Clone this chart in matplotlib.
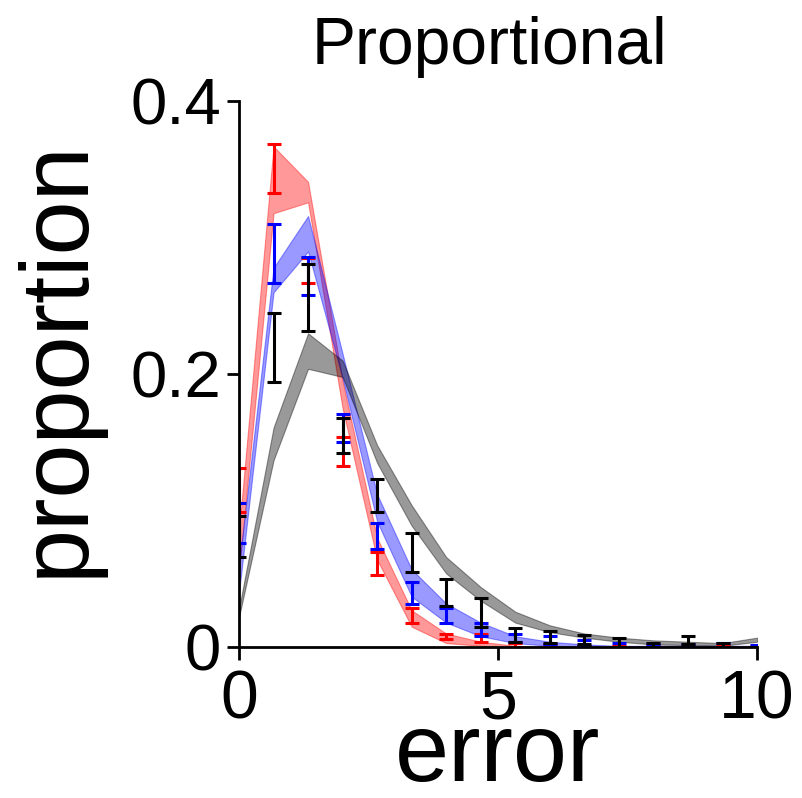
import numpy as np
import matplotlib
matplotlib.use("Agg")
import matplotlib.pyplot as plt

plt.rcParams['font.family'] = ['Liberation Sans', 'DejaVu Sans']

# x positions (error values)
err_x = [0, 0.667, 1.333, 2, 2.667, 3.333, 4, 4.667, 5.333, 6, 6.667, 7.333, 8, 8.667, 9.333, 10]

# data error bars (lower, upper)
red_lo = [0.099, 0.333, 0.267, 0.133, 0.053, 0.018, 0.006, 0.004, 0.000, 0.000, 0.0, 0.0, 0.0, 0.0, 0.0, 0.0]
red_hi = [0.131, 0.369, 0.285, 0.154, 0.070, 0.029, 0.010, 0.010, 0.003, 0.002, 0.001, 0.001, 0.001, 0.001, 0.001, 0.001]
blue_lo = [0.076, 0.267, 0.258, 0.150, 0.072, 0.032, 0.018, 0.008, 0.004, 0.002, 0.001, 0.000, 0.000, 0.000, 0.000, 0.000]
blue_hi = [0.106, 0.310, 0.286, 0.171, 0.091, 0.048, 0.029, 0.018, 0.010, 0.008, 0.005, 0.003, 0.002, 0.002, 0.003, 0.0015]
black_lo = [0.066, 0.194, 0.232, 0.142, 0.099, 0.055, 0.030, 0.015, 0.004, 0.003, 0.002, 0.000, 0.000, 0.002, 0.000, 0.000]
black_hi = [0.096, 0.245, 0.281, 0.168, 0.123, 0.084, 0.050, 0.036, 0.014, 0.012, 0.009, 0.007, 0.003, 0.008, 0.003, 0.000]

# model bands (lower, upper)
red_band_lo = [0.055, 0.318, 0.326, 0.175, 0.064, 0.015, 0.003, 0.001, 0.000, 0.0, 0.0, 0.0, 0.0, 0.0, 0.0, 0.0]
red_band_hi = [0.085, 0.367, 0.341, 0.195, 0.080, 0.027, 0.010, 0.004, 0.001, 0.0005, 0.0005, 0.0005, 0.0005, 0.0005, 0.0005, 0.0005]
blue_band_lo = [0.040, 0.260, 0.290, 0.197, 0.092, 0.037, 0.018, 0.008, 0.003, 0.001, 0.000, 0.0, 0.0, 0.0, 0.0, 0.0]
blue_band_hi = [0.060, 0.278, 0.316, 0.215, 0.112, 0.057, 0.032, 0.018, 0.008, 0.004, 0.002, 0.001, 0.001, 0.001, 0.001, 0.001]
gray_band_lo = [0.022, 0.137, 0.204, 0.198, 0.135, 0.089, 0.054, 0.034, 0.018, 0.011, 0.007, 0.004, 0.002, 0.0015, 0.001, 0.004]
gray_band_hi = [0.028, 0.161, 0.230, 0.210, 0.148, 0.104, 0.066, 0.044, 0.026, 0.016, 0.010, 0.007, 0.005, 0.004, 0.003, 0.007]

xticks = [0, 5, 10]
yticks = [0, 0.2, 0.4]
ytick_labels = ['0', '0.2', '0.4']

fig = plt.figure(figsize=(8.02, 7.98), dpi=100)
ax = fig.add_axes([0.298, 0.189, 0.646, 0.684])

series = [
    (red_lo, red_hi, red_band_lo, red_band_hi, 'red', 'red'),
    (blue_lo, blue_hi, blue_band_lo, blue_band_hi, 'blue', 'blue'),
    (black_lo, black_hi, gray_band_lo, gray_band_hi, 'black', 'black'),
]
x = np.array(err_x)
for lo, hi, blo, bhi, ecol, bcol in series:
    lo = np.array(lo); hi = np.array(hi)
    mid = (lo + hi) / 2
    ax.errorbar(x, mid, yerr=[mid - lo, hi - mid], fmt='none', ecolor=ecol,
                elinewidth=2.2, capsize=5, capthick=2.2)
    ax.fill_between(x, blo, bhi, color=bcol, alpha=0.4, linewidth=0.8)

ax.set_xlim(0, 10)
ax.set_ylim(0, 0.4)
ax.set_xticks(xticks)
ax.set_yticks(yticks)
ax.set_yticklabels(ytick_labels)
for s in ['top', 'right']:
    ax.spines[s].set_visible(False)
for s in ['left', 'bottom']:
    ax.spines[s].set_linewidth(2.0)
ax.tick_params(axis='y', labelsize=47, width=2.0, length=9, pad=4)
ax.tick_params(axis='x', labelsize=49, width=2.0, length=9, pad=6)
ax.set_xlabel('error', fontsize=70, labelpad=-15)
ax.set_ylabel('proportion', fontsize=70)
ax.yaxis.set_label_coords(-0.262, 0.53)
ax.set_title('Proportional', fontsize=47.5, pad=27, x=0.483)

fig.savefig('out.png', dpi=100)
